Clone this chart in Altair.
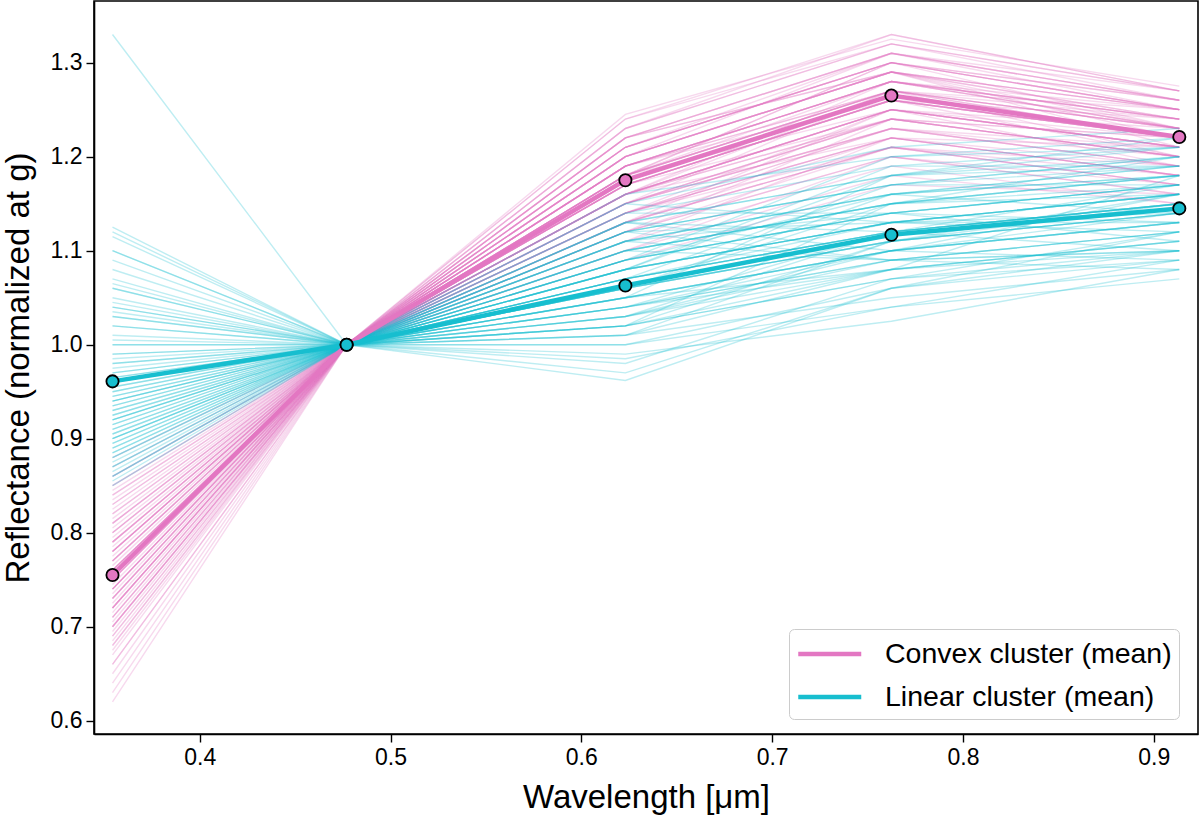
import altair as alt
import pandas as pd

# SDSS band effective wavelengths (micron)
bands = ["u", "g", "r", "i", "z"]
wavelengths = [0.3543, 0.4770, 0.6231, 0.7625, 0.9134]

# Convex cluster members (reflectance normalised at g -> g = 1.0)
convex_u = [0.62, 0.64, 0.65, 0.66, 0.67, 0.675, 0.68, 0.685, 0.69, 0.695, 0.70, 0.70, 0.705, 0.71, 0.71,
            0.715, 0.72, 0.72, 0.725, 0.73, 0.73, 0.735, 0.74, 0.74, 0.745, 0.75, 0.75, 0.755, 0.76, 0.76,
            0.765, 0.77, 0.77, 0.775, 0.78, 0.78, 0.785, 0.79, 0.79, 0.795, 0.80, 0.80, 0.805, 0.81, 0.815,
            0.82, 0.825, 0.83, 0.835, 0.84, 0.845, 0.85, 0.86, 0.87, 0.88, 0.72, 0.74, 0.76, 0.78, 0.70,
            0.63, 0.66, 0.68, 0.69, 0.71, 0.72, 0.73, 0.74, 0.75, 0.76, 0.77, 0.78, 0.79, 0.80, 0.81,
            0.82, 0.83, 0.84, 0.85, 0.86, 0.70, 0.73, 0.75, 0.77, 0.79, 0.74, 0.76, 0.72, 0.78, 0.81]
convex_r = [1.21, 1.13, 1.19, 1.16, 1.24, 1.18, 1.15, 1.22, 1.20, 1.17, 1.23, 1.14, 1.19, 1.21, 1.16,
            1.18, 1.20, 1.12, 1.22, 1.17, 1.19, 1.15, 1.21, 1.18, 1.16, 1.20, 1.14, 1.19, 1.17, 1.22,
            1.13, 1.18, 1.20, 1.16, 1.19, 1.15, 1.17, 1.21, 1.14, 1.18, 1.16, 1.19, 1.12, 1.17, 1.15,
            1.18, 1.11, 1.16, 1.14, 1.17, 1.13, 1.15, 1.12, 1.10, 1.09, 1.23, 1.20, 1.175, 1.16, 1.245,
            1.16, 1.22, 1.14, 1.20, 1.18, 1.11, 1.24, 1.16, 1.13, 1.21, 1.19, 1.15, 1.23, 1.17, 1.20,
            1.14, 1.18, 1.10, 1.16, 1.19, 1.21, 1.12, 1.17, 1.15, 1.22, 1.18, 1.14, 1.19, 1.13, 1.16]
convex_i = [1.30, 1.22, 1.28, 1.25, 1.33, 1.27, 1.24, 1.31, 1.29, 1.26, 1.32, 1.23, 1.27, 1.30, 1.25,
            1.28, 1.29, 1.21, 1.31, 1.26, 1.28, 1.24, 1.30, 1.27, 1.25, 1.29, 1.22, 1.28, 1.26, 1.31,
            1.21, 1.27, 1.29, 1.25, 1.28, 1.23, 1.26, 1.30, 1.22, 1.27, 1.24, 1.28, 1.20, 1.26, 1.23,
            1.27, 1.19, 1.25, 1.22, 1.26, 1.21, 1.24, 1.20, 1.18, 1.17, 1.32, 1.29, 1.265, 1.25, 1.325,
            1.27, 1.29, 1.23, 1.31, 1.25, 1.22, 1.32, 1.28, 1.21, 1.30, 1.26, 1.27, 1.33, 1.24, 1.29,
            1.25, 1.30, 1.20, 1.22, 1.28, 1.31, 1.24, 1.26, 1.23, 1.29, 1.30, 1.21, 1.27, 1.25, 1.24]
convex_z = [1.25, 1.18, 1.24, 1.21, 1.27, 1.23, 1.20, 1.26, 1.25, 1.22, 1.27, 1.19, 1.22, 1.25, 1.21,
            1.24, 1.24, 1.17, 1.26, 1.22, 1.23, 1.20, 1.25, 1.23, 1.21, 1.24, 1.18, 1.23, 1.22, 1.26,
            1.17, 1.22, 1.25, 1.21, 1.23, 1.19, 1.22, 1.25, 1.18, 1.23, 1.20, 1.24, 1.16, 1.22, 1.19,
            1.23, 1.15, 1.21, 1.18, 1.22, 1.17, 1.20, 1.16, 1.15, 1.16, 1.27, 1.25, 1.22, 1.21, 1.275,
            1.24, 1.22, 1.20, 1.27, 1.19, 1.21, 1.26, 1.25, 1.18, 1.23, 1.24, 1.20, 1.27, 1.22, 1.21,
            1.23, 1.26, 1.17, 1.19, 1.24, 1.25, 1.22, 1.20, 1.21, 1.23, 1.26, 1.19, 1.25, 1.22, 1.20]

# Linear cluster members
linear_u = [1.125, 1.115, 1.10, 1.10, 1.09, 1.07, 1.065, 1.06, 1.05, 1.045, 1.04, 1.035, 1.03, 1.02, 1.01,
            1.005, 1.00, 0.99, 0.985, 0.98, 0.975, 0.97, 0.965, 0.96, 0.955, 0.95, 0.945, 0.94, 0.935, 0.93,
            0.925, 0.92, 0.915, 0.91, 0.905, 0.90, 0.895, 0.89, 0.885, 0.88, 0.875, 0.87, 0.865, 0.86, 0.855,
            0.85, 0.92, 0.94, 0.90, 1.33,
            1.12, 1.08, 1.06, 1.04, 1.03, 1.02, 1.00, 0.99, 0.98, 0.97, 0.96, 0.95, 0.94, 0.93, 0.92,
            0.91, 0.90, 0.89, 0.88, 0.87, 0.86, 0.945, 0.925, 0.905, 0.895, 0.955, 0.935, 0.915, 0.885, 0.965]
linear_r = [1.04, 0.99, 1.02, 1.08, 1.00, 1.05, 1.03, 1.10, 1.06, 1.01, 1.07, 1.04, 1.09, 1.02, 1.05,
            1.12, 1.06, 1.08, 1.03, 1.07, 1.11, 1.05, 1.09, 1.04, 1.13, 1.06, 1.08, 1.10, 1.05, 1.07,
            1.14, 1.09, 1.06, 1.11, 1.08, 1.12, 1.07, 1.10, 1.15, 1.09, 1.11, 1.13, 1.08, 1.16, 1.10,
            1.12, 0.962, 0.985, 1.07, 1.02,
            1.03, 1.11, 0.97, 1.09, 1.01, 1.14, 1.05, 1.00, 1.12, 1.04, 1.08, 0.98, 1.13, 1.06, 1.02,
            1.10, 1.07, 1.15, 1.03, 1.09, 1.05, 1.11, 1.01, 1.06, 1.12, 1.04, 1.08, 1.13, 1.02, 1.07]
linear_i = [1.08, 1.025, 1.07, 1.13, 1.06, 1.10, 1.09, 1.15, 1.11, 1.05, 1.12, 1.09, 1.14, 1.07, 1.10,
            1.17, 1.11, 1.13, 1.08, 1.12, 1.16, 1.10, 1.14, 1.09, 1.18, 1.11, 1.13, 1.15, 1.10, 1.12,
            1.19, 1.14, 1.11, 1.16, 1.13, 1.17, 1.12, 1.15, 1.21, 1.14, 1.16, 1.18, 1.13, 1.20, 1.15,
            1.17, 1.06, 1.04, 1.12, 1.08,
            1.12, 1.09, 1.06, 1.16, 1.08, 1.14, 1.18, 1.04, 1.13, 1.10, 1.19, 1.07, 1.12, 1.15, 1.11,
            1.09, 1.17, 1.13, 1.10, 1.20, 1.08, 1.14, 1.11, 1.16, 1.09, 1.12, 1.18, 1.10, 1.15, 1.13]
linear_z = [1.10, 1.08, 1.09, 1.16, 1.09, 1.13, 1.12, 1.18, 1.14, 1.08, 1.15, 1.12, 1.17, 1.10, 1.13,
            1.19, 1.14, 1.16, 1.11, 1.15, 1.18, 1.13, 1.17, 1.12, 1.20, 1.14, 1.16, 1.17, 1.13, 1.15,
            1.21, 1.17, 1.14, 1.19, 1.16, 1.20, 1.15, 1.18, 1.23, 1.17, 1.19, 1.21, 1.16, 1.22, 1.18,
            1.20, 1.10, 1.07, 1.15, 1.11,
            1.17, 1.10, 1.12, 1.14, 1.18, 1.11, 1.22, 1.09, 1.13, 1.16, 1.19, 1.12, 1.10, 1.20, 1.15,
            1.08, 1.17, 1.12, 1.14, 1.21, 1.11, 1.13, 1.16, 1.18, 1.10, 1.15, 1.19, 1.09, 1.16, 1.14]

# Cluster means
convex_mean = [0.755, 1.0, 1.175, 1.265, 1.221]
linear_mean = [0.961, 1.0, 1.063, 1.117, 1.145]

series_names = ["Convex cluster (mean)", "Linear cluster (mean)"]
PINK = "#e377c2"
CYAN = "#17becf"


def members(prefix, us, rs, is_, zs):
    rows = []
    for k, (u, r, i, z) in enumerate(zip(us, rs, is_, zs)):
        for w, v in zip(wavelengths, [u, 1.0, r, i, z]):
            rows.append({"id": f"{prefix}{k}", "wl": w, "refl": v})
    return pd.DataFrame(rows)


df_convex = members("c", convex_u, convex_r, convex_i, convex_z)
df_linear = members("l", linear_u, linear_r, linear_i, linear_z)

mean_rows = []
for name, vals in zip(series_names, [convex_mean, linear_mean]):
    for w, v in zip(wavelengths, vals):
        mean_rows.append({"cluster": name, "wl": w, "refl": v})
df_mean = pd.DataFrame(mean_rows)

FONT = "Liberation Sans"
xscale = alt.Scale(domain=[0.3446, 0.9232], nice=False, zero=False)
yscale = alt.Scale(domain=[0.5859, 1.3656], nice=False, zero=False)

xenc = alt.X("wl:Q", scale=xscale,
             axis=alt.Axis(title="Wavelength [μm]", values=[0.4, 0.5, 0.6, 0.7, 0.8, 0.9], format=".1f"))
yenc = alt.Y("refl:Q", scale=yscale,
             axis=alt.Axis(title="Reflectance (normalized at g)",
                           values=[0.6, 0.7, 0.8, 0.9, 1.0, 1.1, 1.2, 1.3], format=".1f"))

thin_convex = alt.Chart(df_convex).mark_line(color=PINK, strokeWidth=1.4, opacity=0.28).encode(
    x=xenc, y=yenc, detail="id:N")
thin_linear = alt.Chart(df_linear).mark_line(color=CYAN, strokeWidth=1.4, opacity=0.28).encode(
    x=xenc, y=yenc, detail="id:N")

color_scale = alt.Scale(domain=series_names, range=[PINK, CYAN])

# legend sample: a 63 px horizontal stroke whose layout box is only 31.5 px square
mean_lines = alt.Chart(df_mean).mark_line(strokeWidth=4.5).encode(
    x=xenc, y=yenc,
    color=alt.Color("cluster:N", scale=color_scale, sort=series_names,
                    legend=alt.Legend(orient="none", legendX=695, legendY=628, title=None,
                                      symbolType="M-1,0H3", symbolSize=992, symbolStrokeWidth=4.5,
                                      labelFontSize=28.5, labelFont=FONT, labelColor="black",
                                      labelOffset=53, rowPadding=10, padding=7,
                                      strokeColor="#cccccc", cornerRadius=5, fillColor="white",
                                      labelLimit=500)),
)

mean_points = alt.Chart(df_mean).mark_circle(size=150, opacity=1, stroke="black", strokeWidth=1.8).encode(
    x=xenc, y=yenc,
    fill=alt.Fill("cluster:N", scale=color_scale, legend=None),
)

chart = alt.layer(thin_convex, thin_linear, mean_lines, mean_points).properties(
    width=1104, height=733,
    autosize=alt.AutoSizeParams(type="none"),
    padding={"left": 94, "top": 1, "right": 2, "bottom": 82},
).configure_view(
    stroke="black", strokeWidth=1.6
).configure_axis(
    grid=False,
    domainColor="black", domainWidth=1.6,
    tickColor="black", tickWidth=1.4, tickSize=8,
    labelFont=FONT, labelFontSize=23, labelColor="black", labelPadding=4,
    titleFont=FONT, titleFontSize=33, titleFontWeight="normal", titleColor="black",
).configure_axisX(titlePadding=12).configure_axisY(titlePadding=15)

chart.save("out.html", embed_options={"renderer": "svg", "actions": False})
